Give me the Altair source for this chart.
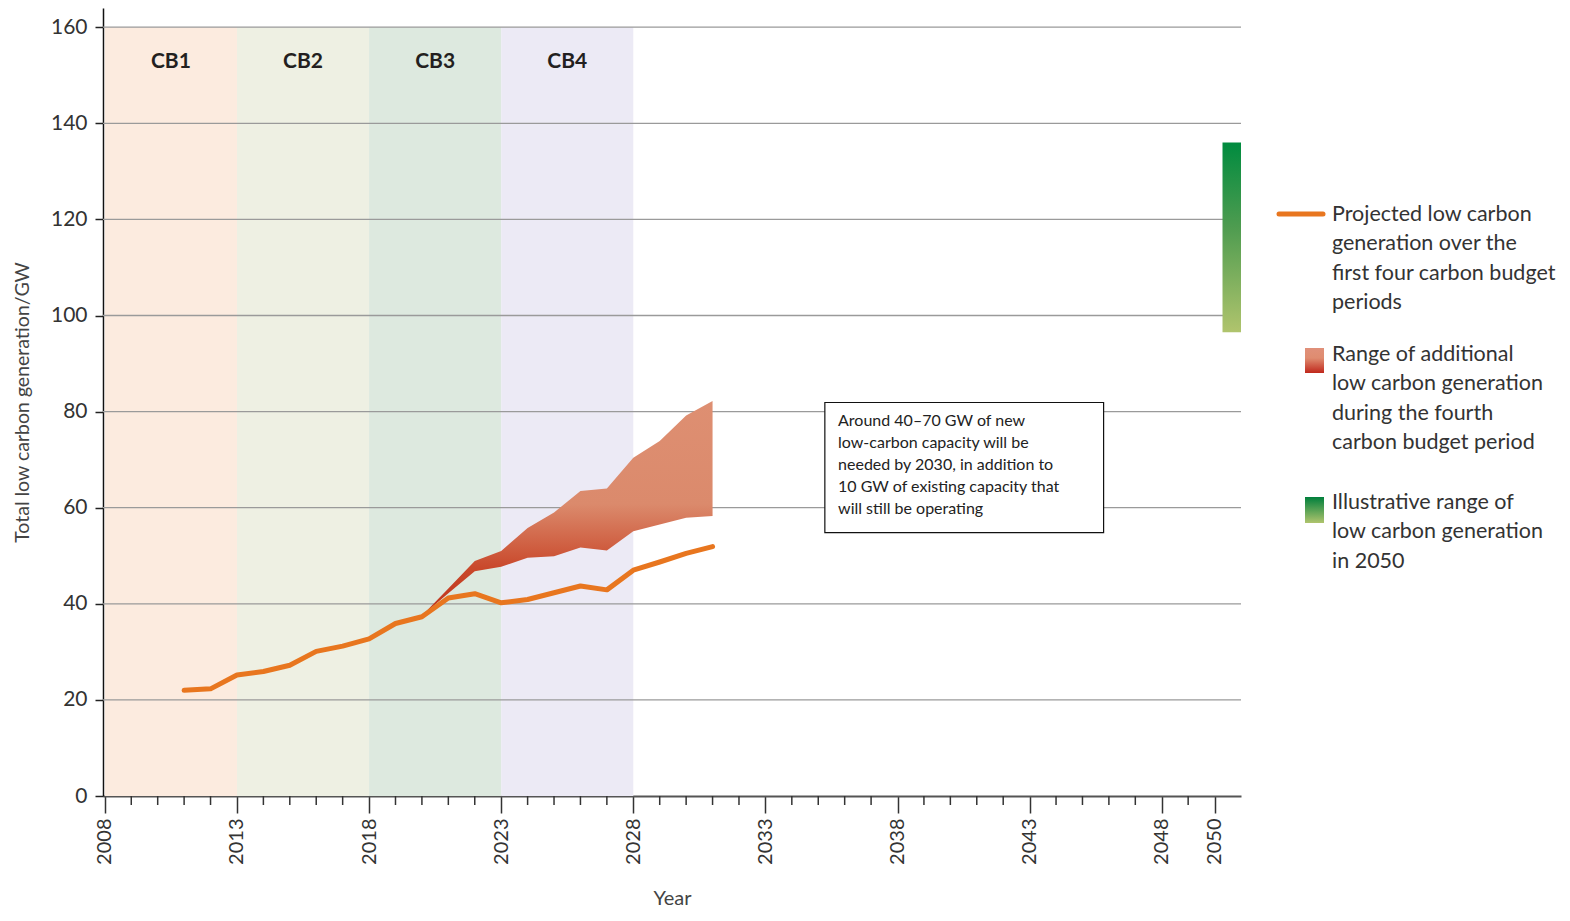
import altair as alt
import pandas as pd

# ---- data ----
years = list(range(2011, 2032))
projected = [22.0, 22.3, 25.2, 25.9, 27.2, 30.1, 31.2, 32.7, 35.9, 37.3, 41.2,
             42.1, 40.2, 40.9, 42.3, 43.7, 42.9, 47.0, 48.7, 50.5, 51.9]

range_years = list(range(2020, 2032))
range_low = [37.5, 42.2, 46.8, 47.7, 49.6, 49.9, 51.7, 51.1, 55.1, 56.5, 57.9, 58.3]
range_high = [37.5, 43.2, 48.9, 51.0, 55.8, 59.0, 63.5, 64.0, 70.4, 73.9, 79.2, 82.2]

budget_names = ["CB1", "CB2", "CB3", "CB4"]
budget_start = [2008, 2013, 2018, 2023]
budget_end = [2013, 2018, 2023, 2028]
budget_colors = ["#fcebdf", "#eef0e3", "#dde9df", "#eceaf5"]
budget_top = 160

range2050_x = [2050.3, 2051]
range2050_y = [96.5, 136.0]

y_ticks = [0, 20, 40, 60, 80, 100, 120, 140, 160]
x_label_ticks = [2008, 2013, 2018, 2023, 2028, 2033, 2038, 2043, 2048, 2050]
x_minor_ticks = [y for y in range(2009, 2050) if y not in x_label_ticks]

annotation_lines = ["Around 40–70 GW of new",
                    "low-carbon capacity will be",
                    "needed by 2030, in addition to",
                    "10 GW of existing capacity that",
                    "will still be operating"]
annotation_box_x = [2035.25, 2045.8]
annotation_box_y = [54.8, 81.9]

legend1 = ["Projected low carbon", "generation over the", "first four carbon budget", "periods"]
legend2 = ["Range of additional", "low carbon generation", "during the fourth", "carbon budget period"]
legend3 = ["Illustrative range of", "low carbon generation", "in 2050"]

# ---- layout ----
W, H = 1138, 788
FONT = "Lato"
ORANGE = "#e8761f"

xs = alt.Scale(domain=[2007.93, 2051], nice=False, zero=False)
ys = alt.Scale(domain=[0, 164], nice=False, zero=True)

X_AXIS = alt.Axis(values=x_label_ticks, format="d", labelAngle=-90, tickSize=17,
                  tickWidth=1.5, tickColor="#333", domainColor="#555", domainWidth=2,
                  labelFontSize=20, labelColor="#333", labelPadding=5, labelFont=FONT,
                  grid=False, title="Year", titleFont=FONT, titleFontSize=20,
                  titleFontWeight="normal", titleColor="#444", titleY=108,
                  titleBaseline="alphabetic")
Y_AXIS = alt.Axis(values=y_ticks, tickSize=8, tickWidth=1.5, tickColor="#222",
                  domainColor="#111", domainWidth=1.5, labelFontSize=21,
                  labelColor="#333", labelPadding=8, labelFont=FONT, grid=False,
                  title="Total low carbon generation/GW", titleFont=FONT,
                  titleFontSize=19.5, titleFontWeight="normal", titleColor="#444",
                  titleX=-81, titleBaseline="middle")


def X(field=None, **kw):
    if field is None:
        return alt.X(scale=xs, axis=X_AXIS, title="Year", **kw)
    return alt.X(field, scale=xs, axis=X_AXIS, title="Year", **kw)


def Y(field=None, **kw):
    if field is None:
        return alt.Y(scale=ys, axis=Y_AXIS, title="Total low carbon generation/GW", **kw)
    return alt.Y(field, scale=ys, axis=Y_AXIS, title="Total low carbon generation/GW", **kw)


df_budget = pd.DataFrame({"name": budget_names, "start": budget_start, "end": budget_end,
                          "color": budget_colors, "top": [budget_top] * 4})
df_budget["mid"] = [(a + b) / 2 for a, b in zip(budget_start, budget_end)]
df_budget["label_y"] = 152.8
df_line = pd.DataFrame({"year": years, "value": projected})
df_range = pd.DataFrame({"year": range_years, "low": range_low, "high": range_high})
df_grid = pd.DataFrame({"v": y_ticks[1:]})
df_minor = pd.DataFrame({"year": x_minor_ticks})
df_2050 = pd.DataFrame({"x": [range2050_x[0]], "x2": [range2050_x[1]],
                        "y": [range2050_y[0]], "y2": [range2050_y[1]]})
df_box = pd.DataFrame({"x": [annotation_box_x[0]], "x2": [annotation_box_x[1]],
                       "y": [annotation_box_y[0]], "y2": [annotation_box_y[1]]})
df_one = pd.DataFrame({"a": [0]})

bands = alt.Chart(df_budget).mark_rect().encode(
    x=X("start:Q"), x2="end:Q",
    y=Y("top:Q"), y2=alt.Y2(datum=0),
    color=alt.Color("color:N", scale=None),
)

grid = alt.Chart(df_grid).mark_rule(color="#9a9a9a", strokeWidth=1.3).encode(
    y=Y("v:Q"),
    x=alt.value(0), x2=alt.value(W),
)

minor = alt.Chart(df_minor).mark_rule(color="#333", strokeWidth=1.5).encode(
    x=X("year:Q"),
    y=alt.value(H), y2=alt.value(H + 9),
)

cb_labels = alt.Chart(df_budget).mark_text(font=FONT, fontSize=21, fontWeight="bold",
                                           color="#231f20").encode(
    x=X("mid:Q"),
    y=Y("label_y:Q"),
    text="name:N",
)

area = alt.Chart(df_range).mark_area(
    color=alt.Gradient(gradient="linear",
                       stops=[alt.GradientStop(color="#bf3219", offset=0),
                              alt.GradientStop(color="#c9482b", offset=0.22),
                              alt.GradientStop(color="#db8a6c", offset=0.52),
                              alt.GradientStop(color="#de8f72", offset=1)],
                       x1=0, x2=0, y1=1, y2=0)
).encode(
    x=X("year:Q"),
    y=Y("high:Q"),
    y2="low:Q",
)

line = alt.Chart(df_line).mark_line(color=ORANGE, strokeWidth=5, strokeCap="round",
                                    strokeJoin="round").encode(
    x=X("year:Q"),
    y=Y("value:Q"),
)

green = alt.Chart(df_2050).mark_rect(
    color=alt.Gradient(gradient="linear",
                       stops=[alt.GradientStop(color="#b0c46d", offset=0),
                              alt.GradientStop(color="#4f9c50", offset=0.55),
                              alt.GradientStop(color="#008b3f", offset=1)],
                       x1=0, x2=0, y1=1, y2=0)
).encode(
    x=X("x:Q"), x2="x2:Q",
    y=Y("y:Q"), y2="y2:Q",
)

box = alt.Chart(df_box).mark_rect(fill="white", stroke="#111", strokeWidth=1.2).encode(
    x=X("x:Q"), x2="x2:Q",
    y=Y("y:Q"), y2="y2:Q",
)

box_text = alt.Chart(df_one).mark_text(
    text=annotation_lines, font=FONT, fontSize=16, color="#222", align="left",
    baseline="top", lineHeight=22
).encode(
    x=X(datum=2035.75),
    y=Y(datum=79.7),
)

# ---- legend (drawn outside plot area) ----
LX = 1229
leg_line = alt.Chart(df_one).mark_rule(color=ORANGE, strokeWidth=5, strokeCap="round").encode(
    x=alt.value(1176), x2=alt.value(1220), y=alt.value(206),
)
leg_red = alt.Chart(df_one).mark_rect(
    color=alt.Gradient(gradient="linear",
                       stops=[alt.GradientStop(color="#c0281c", offset=0),
                              alt.GradientStop(color="#df8c70", offset=0.6),
                              alt.GradientStop(color="#e0907a", offset=1)],
                       x1=0, x2=0, y1=1, y2=0)
).encode(x=alt.value(1202), x2=alt.value(1221), y=alt.value(340), y2=alt.value(365))
leg_green = alt.Chart(df_one).mark_rect(
    color=alt.Gradient(gradient="linear",
                       stops=[alt.GradientStop(color="#afc46d", offset=0),
                              alt.GradientStop(color="#007f3c", offset=1)],
                       x1=0, x2=0, y1=1, y2=0)
).encode(x=alt.value(1202), x2=alt.value(1221), y=alt.value(489), y2=alt.value(515))


def leg_text(lines, ytop):
    return alt.Chart(df_one).mark_text(
        text=lines, font=FONT, fontSize=21.5, color="#333", align="left",
        baseline="top", lineHeight=29.3
    ).encode(x=alt.value(LX), y=alt.value(ytop))


chart = alt.layer(
    bands, grid, minor, cb_labels, area, line, green, box, box_text,
    leg_line, leg_red, leg_green,
    leg_text(legend1, 196), leg_text(legend2, 336), leg_text(legend3, 484),
).properties(
    width=W, height=H,
    autosize=alt.AutoSizeParams(type="none"),
    padding={"left": 95, "top": 0, "right": 320, "bottom": 115},
).configure_view(strokeWidth=0)

chart.save("out.html", embed_options={"renderer": "svg", "actions": False})
